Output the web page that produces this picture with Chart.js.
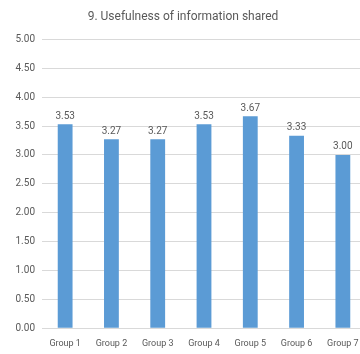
<!DOCTYPE html>
<html>
<head>
<meta charset="utf-8">
<script src="https://cdn.jsdelivr.net/npm/chart.js@4"></script>
<style>
  html, body { margin: 0; padding: 0; background: #fff; overflow: hidden; }
  #wrap { position: relative; width: 366px; height: 354px; }
</style>
</head>
<body>
<div id="wrap"><canvas id="chart"></canvas></div>
<script>
const categories = ['Group 1', 'Group 2', 'Group 3', 'Group 4', 'Group 5', 'Group 6', 'Group 7'];
const scores = [3.53, 3.27, 3.27, 3.53, 3.67, 3.33, 3.00];
const yTicks = [0, 0.5, 1, 1.5, 2, 2.5, 3, 3.5, 4, 4.5, 5];

const FONT = 'Roboto, "Open Sans", sans-serif';
const GREY = '#595959';

// draws the value above each bar
const valueLabels = {
  id: 'valueLabels',
  afterDatasetsDraw(chart) {
    const ctx = chart.ctx;
    const meta = chart.getDatasetMeta(0);
    ctx.save();
    ctx.font = '10px ' + FONT;
    ctx.fillStyle = GREY;
    ctx.textAlign = 'center';
    ctx.textBaseline = 'bottom';
    meta.data.forEach((bar, i) => {
      ctx.fillText(scores[i].toFixed(2), bar.x, bar.y - 3);
    });
    ctx.restore();
  }
};

new Chart(document.getElementById('chart'), {
  type: 'bar',
  data: {
    labels: categories,
    datasets: [{
      data: scores,
      backgroundColor: '#5B9BD5',
      barPercentage: 0.64,
      categoryPercentage: 0.5
    }]
  },
  options: {
    responsive: true,
    maintainAspectRatio: false,
    animation: false,
    layout: { padding: { top: 0, right: 0, bottom: 3, left: 0 } },
    plugins: {
      legend: { display: false },
      tooltip: { enabled: false },
      title: {
        display: true,
        text: '9. Usefulness of information shared',
        color: GREY,
        font: { family: FONT, size: 12, weight: 'normal' },
        padding: { top: 10, bottom: 15 }
      }
    },
    scales: {
      x: {
        grid: { display: false },
        border: { display: false },
        ticks: { color: GREY, font: { family: FONT, size: 9 }, padding: 2, maxRotation: 0 }
      },
      y: {
        min: 0,
        max: 5,
        afterBuildTicks(axis) { axis.ticks = yTicks.map(v => ({ value: v })); },
        afterFit(axis) { axis.width = 42; },
        grid: { color: '#d9d9d9', drawTicks: false },
        border: { display: false },
        ticks: {
          color: GREY,
          font: { family: FONT, size: 10 },
          padding: 7,
          callback: v => Number(v).toFixed(2)
        }
      }
    }
  },
  plugins: [valueLabels]
});
</script>
</body>
</html>
